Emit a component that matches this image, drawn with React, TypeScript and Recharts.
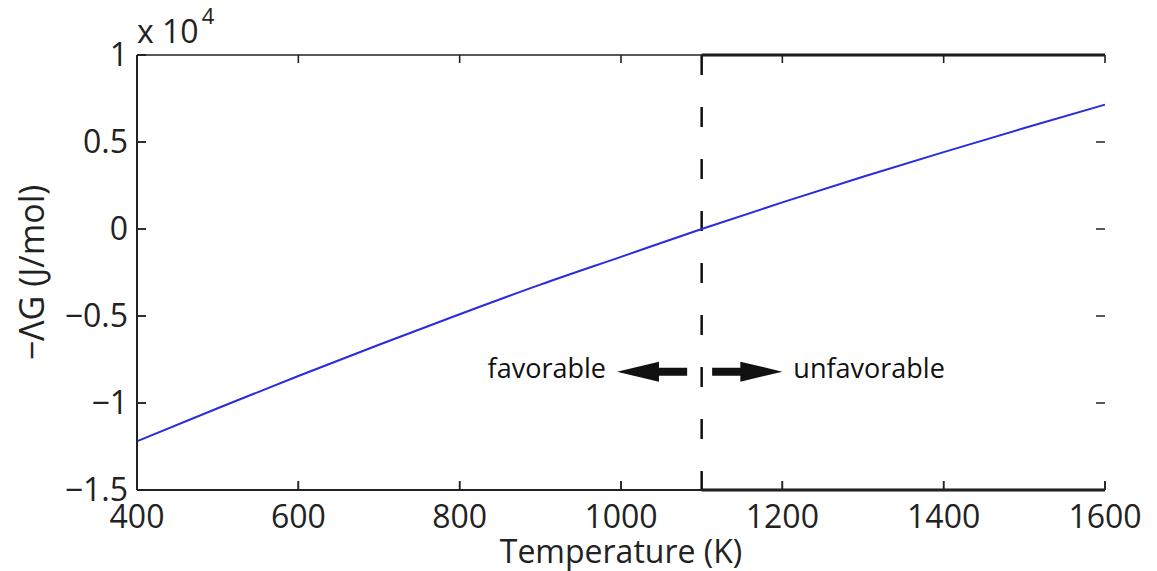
import {
  LineChart,
  Line,
  XAxis,
  YAxis,
  ReferenceLine,
  Label,
} from "recharts";

// temperature (K) and -ΔG (J/mol)
const temps = [400, 500, 600, 700, 800, 900, 1000, 1100, 1200, 1300, 1400, 1500, 1600];
const dG = [-12200, -10300, -8450, -6650, -4900, -3200, -1600, 0, 1530, 3000, 4420, 5800, 7150];

const xTicks = [400, 600, 800, 1000, 1200, 1400, 1600];
const yTicks = [-15000, -10000, -5000, 0, 5000, 10000];

const X_MIN = 400;
const X_MAX = 1600;
const Y_MIN = -15000;
const Y_MAX = 10000;
const T_CROSS = 1100;
const ARROW_Y = -8200;

const data = temps.map((t, i) => ({ t, g: dG[i] }));

const INK = "#222";
const FONT = "'Open Sans', sans-serif";
const TICK = 9;

const fmtY = (v: number) => (v === 0 ? "0" : String(v / 10000).replace("-", "\u2212"));

const tickLineStyle = { stroke: INK, strokeWidth: 1.5 };

// y arrives at the inner end of the (inward) tick line
// eslint-disable-next-line @typescript-eslint/no-explicit-any
function BottomTick(props: any) {
  const { x, y, payload } = props;
  return (
    <text x={x} y={y + TICK + 38} textAnchor="middle" fontSize={32} fill={INK} fontFamily={FONT}>
      {payload.value}
    </text>
  );
}

// eslint-disable-next-line @typescript-eslint/no-explicit-any
function LeftTick(props: any) {
  const { x, y, payload } = props;
  return (
    <text x={x - TICK - 9} y={y + 11} textAnchor="end" fontSize={32} fill={INK} fontFamily={FONT}>
      {fmtY(payload.value)}
    </text>
  );
}

// inward tick marks at both ends of a full-span reference line, drawn as filled bars
// eslint-disable-next-line @typescript-eslint/no-explicit-any
function stubs(props: any) {
  const { x1, y1, x2, y2 } = props;
  const w = 1.6;
  if (Math.abs(x1 - x2) < 0.5) {
    const top = Math.min(y1, y2);
    const bot = Math.max(y1, y2);
    const d = `M${x1 - w / 2},${bot}h${w}v${-TICK}h${-w}Z M${x1 - w / 2},${top}h${w}v${TICK - 1}h${-w}Z`;
    return <path d={d} fill={INK} />;
  }
  const l = Math.min(x1, x2);
  const r = Math.max(x1, x2);
  const d = `M${l},${y1 - w / 2}h${TICK}v${w}h${-TICK}Z M${r},${y1 - w / 2}h${-TICK}v${w}h${TICK}Z`;
  return <path d={d} fill={INK} />;
}

// arrow drawn from tail (x1) to tip (x2), with its text past the tip
function arrowShape(text: string) {
  // eslint-disable-next-line @typescript-eslint/no-explicit-any
  return (props: any) => {
    const { x1, y1, x2 } = props;
    const dir = x2 > x1 ? 1 : -1;
    const head = 42;
    const hx = x2 - dir * head;
    const pts = [
      [x1, y1 - 4],
      [hx, y1 - 4],
      [hx, y1 - 10],
      [x2, y1],
      [hx, y1 + 10],
      [hx, y1 + 4],
      [x1, y1 + 4],
    ]
      .map((p) => p.join(","))
      .join(" ");
    return (
      <g>
        <polygon points={pts} fill="#111" />
        <text
          x={x2 + dir * 11}
          y={y1 + 6}
          textAnchor={dir > 0 ? "start" : "end"}
          fontSize={27}
          fill="#111"
          fontFamily={FONT}
        >
          {text}
        </text>
      </g>
    );
  };
}

export default function App() {
  return (
    <div style={{ position: "absolute", left: 0, top: 0, width: 1157, height: 571, background: "#fff" }}>
      <LineChart width={1157} height={571} data={data} margin={{ top: 0, right: 52, left: 0, bottom: 0 }}>
        <XAxis
          dataKey="t"
          type="number"
          domain={[X_MIN, X_MAX]}
          ticks={xTicks}
          height={81}
          tickSize={-TICK}
          tickMargin={0}
          tickLine={tickLineStyle}
          tick={<BottomTick />}
          axisLine={{ stroke: INK, strokeWidth: 2 }}
        >
          <Label
            content={(p: any) => {
              const vb = p.viewBox;
              return (
                <text x={vb.x + vb.width / 2} y={vb.y + 73} textAnchor="middle" fontSize={32} fill={INK} fontFamily={FONT}>
                  Temperature (K)
                </text>
              );
            }}
          />
        </XAxis>
        <XAxis
          xAxisId="top"
          orientation="top"
          type="number"
          domain={[X_MIN, X_MAX]}
          ticks={xTicks}
          height={55}
          tickLine={false}
          tick={false}
          axisLine={{ stroke: INK, strokeWidth: 1.5 }}
        >
          <Label
            content={(p: any) => {
              const vb = p.viewBox;
              return (
                <text x={vb.x} y={vb.y + 43} fontSize={32} fill={INK} fontFamily={FONT}>
                  x 10
                  <tspan dx={3} dy={-19} fontSize={22}>
                    4
                  </tspan>
                </text>
              );
            }}
          />
        </XAxis>
        <YAxis
          type="number"
          domain={[Y_MIN, Y_MAX]}
          ticks={yTicks}
          width={137}
          tickSize={-TICK}
          tickMargin={0}
          tickLine={tickLineStyle}
          tick={<LeftTick />}
          axisLine={{ stroke: INK, strokeWidth: 2 }}
        >
          <Label
            content={(p: any) => {
              const vb = p.viewBox;
              const cx = 31;
              const cy = vb.y + vb.height / 2;
              return (
                <text
                  x={cx}
                  y={cy}
                  transform={`rotate(-90, ${cx}, ${cy})`}
                  textAnchor="middle"
                  dominantBaseline="central"
                  fontSize={34}
                  fill={INK}
                  fontFamily={FONT}
                >
                  {"\u2212\u039BG (J/mol)"}
                </text>
              );
            }}
          />
        </YAxis>
        <YAxis
          yAxisId="right"
          orientation="right"
          type="number"
          domain={[Y_MIN, Y_MAX]}
          width={0}
          tickLine={false}
          tick={false}
          axisLine={{ stroke: INK, strokeWidth: 2 }}
        />
        {xTicks.map((t) => (
          <ReferenceLine
            key={`xt${t}`}
            segment={[
              { x: t, y: Y_MIN },
              { x: t, y: Y_MAX },
            ]}
            shape={stubs}
          />
        ))}
        {yTicks.map((v) => (
          <ReferenceLine
            key={`yt${v}`}
            segment={[
              { x: X_MIN, y: v },
              { x: X_MAX, y: v },
            ]}
            shape={stubs}
          />
        ))}
        <ReferenceLine
          segment={[
            { x: T_CROSS, y: Y_MAX },
            { x: X_MAX, y: Y_MAX },
          ]}
          stroke="#111"
          strokeWidth={3}
        />
        <ReferenceLine
          segment={[
            { x: T_CROSS, y: Y_MIN },
            { x: X_MAX, y: Y_MIN },
          ]}
          stroke="#111"
          strokeWidth={3}
        />
        <ReferenceLine
          segment={[
            { x: T_CROSS, y: Y_MAX },
            { x: T_CROSS, y: Y_MIN },
          ]}
          stroke="#111"
          strokeWidth={2.5}
          strokeDasharray="20 32"
        />
        <ReferenceLine
          segment={[
            { x: 1082, y: ARROW_Y },
            { x: 995, y: ARROW_Y },
          ]}
          shape={arrowShape("favorable")}
        />
        <ReferenceLine
          segment={[
            { x: 1113, y: ARROW_Y },
            { x: 1200, y: ARROW_Y },
          ]}
          shape={arrowShape("unfavorable")}
        />
        <Line
          type="monotone"
          dataKey="g"
          stroke="#2a2ae0"
          strokeWidth={2}
          dot={false}
          isAnimationActive={false}
        />
      </LineChart>
    </div>
  );
}
